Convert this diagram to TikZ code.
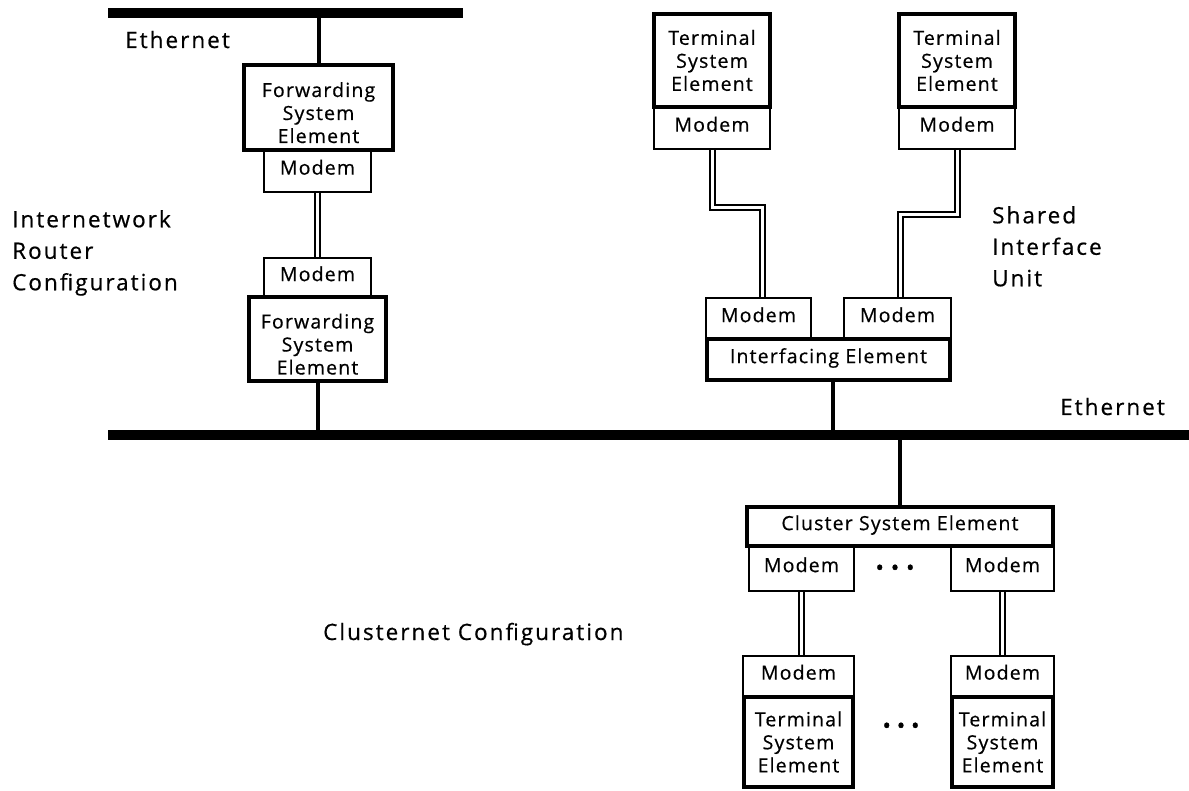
\documentclass[tikz,border=0pt]{standalone}
\usepackage{fontspec}
\setmainfont{Open Sans}
\newfontfamily\boxfam[LetterSpace=6,FakeBold=0.6]{Open Sans}
\newfontfamily\lblfam[LetterSpace=9,FakeBold=0.6]{Open Sans}
\newfontfamily\dotfam[FakeBold=1.5]{Open Sans}
\begin{document}
\begin{tikzpicture}[x=1pt,y=-1pt,
  elem/.style={draw,line width=4pt,inner sep=0pt,align=center,
    font=\boxfam\fontsize{19.5}{23}\selectfont},
  lowtext/.style={text height=71pt,text depth=0pt},
  oneline/.style={text height=0.72em,text depth=0pt},
  modem/.style={draw,line width=2pt,inner sep=0pt,align=center,oneline,
    font=\boxfam\fontsize{19.5}{23}\selectfont},
  bar/.style={fill=black,inner sep=0pt,minimum height=10pt},
  wire/.style={line width=4pt},
  dbl/.style={line width=2pt,double=white,double distance=3pt},
  lbl/.style={inner sep=0pt,align=left,font=\lblfam\fontsize{22.5}{31.5}\selectfont},
  dots/.style={inner sep=0pt,font=\dotfam\fontsize{22}{22}\selectfont}
]
\useasboundingbox (0,0) rectangle (1189,791);

% Ethernet bars
\node[bar,minimum width=355pt] (eth1) at (285.5,13) {};
\node[bar,minimum width=1081pt] (eth2) at (648.5,435) {};

% Internetwork router
\node[elem,lowtext,minimum width=149pt,minimum height=85pt] (fse1) at (318.5,107.5) {Forwarding\\System\\Element};
\node[modem,minimum width=107pt,minimum height=42pt] (m1) at (317.5,171) {Modem};
\node[modem,minimum width=107pt,minimum height=39pt] (m2) at (317.5,277.5) {Modem};
\node[elem,lowtext,minimum width=137pt,minimum height=84pt] (fse2) at (317.5,339) {Forwarding\\System\\Element};
\draw[wire] (fse1.north) -- (fse1.north |- eth1.south);
\draw[dbl] (m1.south) -- (m2.north);
\draw[wire] (fse2.south) -- (fse2.south |- eth2.north);

% Shared interface unit
\node[elem,minimum width=116pt,minimum height=93pt] (tse1) at (712,60.5) {Terminal\\System\\Element};
\node[modem,minimum width=116pt,minimum height=42pt] (tm1) at (712,128) {Modem};
\node[elem,minimum width=116pt,minimum height=93pt] (tse2) at (957,60.5) {Terminal\\System\\Element};
\node[modem,minimum width=116pt,minimum height=42pt] (tm2) at (957,128) {Modem};
\node[modem,minimum width=105pt,minimum height=41pt] (sm1) at (758.5,318.5) {Modem};
\node[modem,minimum width=107pt,minimum height=41pt] (sm2) at (897.5,318.5) {Modem};
\node[elem,oneline,minimum width=243pt,minimum height=41pt] (ie) at (828.5,359.5) {Interfacing Element};
\coordinate (c1) at ([xshift=3.5pt]sm1.north);
\coordinate (c2) at ([xshift=2.5pt]sm2.north);
\draw[dbl] (tm1.south) -- ++(0,58) -| (c1);
\draw[dbl] (tm2.south) -- ++(0,65) -| (c2);
\coordinate (c3) at ([xshift=4.5pt]ie.south);
\draw[wire] (c3) -- (c3 |- eth2.south);

% Clusternet
\node[elem,oneline,minimum width=306pt,minimum height=39pt] (cse) at (900,526.5) {Cluster System Element};
\node[modem,minimum width=105pt,minimum height=45pt] (cm1) at (801.5,568.5) {Modem};
\node[modem,minimum width=103pt,minimum height=45pt] (cm2) at (1002.5,568.5) {Modem};
\node[dots] (d1) at (895,570) {\textbullet\hspace{7pt}\textbullet\hspace{7pt}\textbullet};
\node[modem,minimum width=111pt,minimum height=40pt] (lm1) at (798.5,676) {Modem};
\node[elem,minimum width=109pt,minimum height=90pt] (lt1) at (798.5,742) {Terminal\\System\\Element};
\node[modem,minimum width=103pt,minimum height=40pt] (lm2) at (1002.5,676) {Modem};
\node[elem,minimum width=101pt,minimum height=90pt] (lt2) at (1002.5,742) {Terminal\\System\\Element};
\node[dots] (d2) at (901,728) {\textbullet\hspace{6pt}\textbullet\hspace{6pt}\textbullet};
\draw[wire] (cse.north) -- (cse.north |- eth2.south);
\draw[dbl] (cm1.south) -- (cm1.south |- lm1.north);
\draw[dbl] (cm2.south) -- (cm2.south |- lm2.north);

% Labels
\node[lbl,anchor=base west] (l1) at (125,48) {Ethernet};
\node[lbl,anchor=north west] (l2) at (12,210) {Internetwork\\Router\\Configuration};
\node[lbl,anchor=north west] (l3) at (992,206) {Shared\\Interface\\Unit};
\node[lbl,anchor=base west] (l4) at (1060,415) {Ethernet};
\node[lbl,anchor=base west] (l5) at (323,640) {Clusternet Configuration};
\end{tikzpicture}
\end{document}
